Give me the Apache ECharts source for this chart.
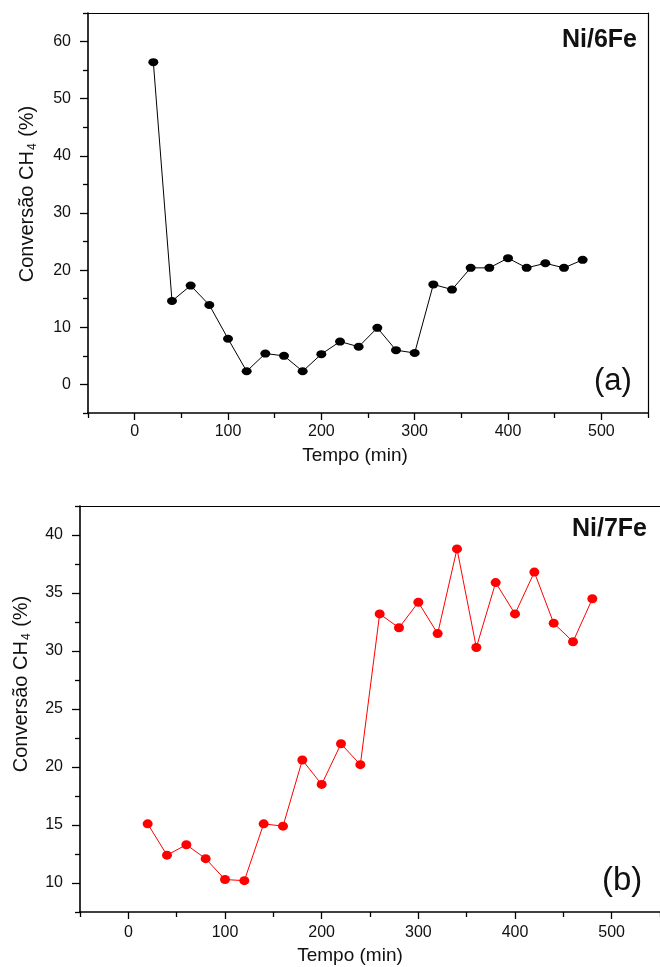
<!DOCTYPE html>
<html>
<head>
<meta charset="utf-8">
<script src="https://cdn.jsdelivr.net/npm/echarts@6/dist/echarts.min.js"></script>
<style>
html,body{margin:0;padding:0;background:#fff;}
#chart{width:660px;height:967px;}
</style>
</head>
<body>
<div id="chart"></div>
<script>
// ---- data ----
const timeMin = [20, 40, 60, 80, 100, 120, 140, 160, 180, 200, 220, 240, 260, 280, 300, 320, 340, 360, 380, 400, 420, 440, 460, 480];
const conv6Fe = [56.4, 14.6, 17.3, 13.9, 8.0, 2.3, 5.4, 5.0, 2.3, 5.3, 7.5, 6.6, 9.9, 6.0, 5.5, 17.5, 16.6, 20.4, 20.4, 22.1, 20.4, 21.2, 20.4, 21.8];
const conv7Fe = [15.1, 12.4, 13.3, 12.1, 10.3, 10.2, 15.1, 14.9, 20.6, 18.5, 22.0, 20.2, 33.2, 32.0, 34.2, 31.5, 38.8, 30.3, 35.9, 33.2, 36.8, 32.4, 30.8, 34.5];

const xMajorTicks = [0, 100, 200, 300, 400, 500];
const xMinorTicks = [-50, 50, 150, 250, 350, 450, 550];
const yMajorTicksA = [0, 10, 20, 30, 40, 50, 60];
const yMinorTicksA = [-5, 5, 15, 25, 35, 45, 55, 65];
const yMajorTicksB = [10, 15, 20, 25, 30, 35, 40];
const yMinorTicksB = [7.5, 12.5, 17.5, 22.5, 27.5, 32.5, 37.5, 42.5];

const panelA = 'Ni/6Fe', panelB = 'Ni/7Fe';
const tagA = '(a)', tagB = '(b)';
const xTitle = 'Tempo (min)';

// ---- styles ----
const FONT = '"Liberation Sans", Arial, Helvetica, sans-serif';
const axisLineStyle = { color: '#000', width: 1.6 };
const labelStyle = { color: '#111', fontSize: 16, fontFamily: FONT };

function pairOfX(gridIndex, min, max, margin) {
  return [
    {
      type: 'value', gridIndex, min, max, position: 'bottom',
      axisLine: { show: true, onZero: false, lineStyle: axisLineStyle },
      axisTick: { show: true, inside: false, length: 7, customValues: xMajorTicks, lineStyle: { color: '#000', width: 1.3 } },
      axisLabel: { show: true, margin, customValues: xMajorTicks, ...labelStyle },
      splitLine: { show: false }
    },
    {
      type: 'value', gridIndex, min, max, position: 'bottom',
      axisLine: { show: false, onZero: false },
      axisTick: { show: true, inside: false, length: 5, customValues: xMinorTicks, lineStyle: { color: '#000', width: 1.3 } },
      axisLabel: { show: false },
      splitLine: { show: false }
    },
    {
      type: 'value', gridIndex, min, max, position: 'top',
      axisLine: { show: true, onZero: false, lineStyle: { color: '#000', width: 1.2 } },
      axisTick: { show: false },
      axisLabel: { show: false },
      splitLine: { show: false }
    }
  ];
}
function pairOfY(gridIndex, min, max, major, minor, margin, rightBorder) {
  return [
    {
      type: 'value', gridIndex, min, max, position: 'left',
      axisLine: { show: true, onZero: false, lineStyle: axisLineStyle },
      axisTick: { show: true, inside: false, length: 8, customValues: major, lineStyle: { color: '#000', width: 1.3 } },
      axisLabel: { show: true, margin, customValues: major, ...labelStyle },
      splitLine: { show: false }
    },
    {
      type: 'value', gridIndex, min, max, position: 'left',
      axisLine: { show: false, onZero: false },
      axisTick: { show: true, inside: false, length: 5, customValues: minor, lineStyle: { color: '#000', width: 1.3 } },
      axisLabel: { show: false },
      splitLine: { show: false }
    },
    {
      type: 'value', gridIndex, min, max, position: 'right',
      axisLine: { show: rightBorder, onZero: false, lineStyle: { color: '#000', width: 1.2 } },
      axisTick: { show: false },
      axisLabel: { show: false },
      splitLine: { show: false }
    }
  ];
}

const chart = echarts.init(document.getElementById('chart'), null, { renderer: 'canvas' });

const yTitleRich = {
  s: { fontSize: 12, fontFamily: FONT, color: '#111', padding: [11, 1, 0, 1] }
};

chart.setOption({
  animation: false,
  backgroundColor: '#fff',
  grid: [
    { left: 88, top: 13, width: 560, height: 400, show: false },
    { left: 80, top: 506, width: 582, height: 406, show: false }
  ],
  xAxis: [
    ...pairOfX(0, -50, 550, 11),
    ...pairOfX(1, -50, 550, 13)
  ],
  yAxis: [
    ...pairOfY(0, -5, 65, yMajorTicksA, yMinorTicksA, 17, true),
    ...pairOfY(1, 7.5, 42.5, yMajorTicksB, yMinorTicksB, 17, false)
  ],
  series: [
    {
      type: 'line', xAxisIndex: 0, yAxisIndex: 0,
      data: timeMin.map((t, i) => [t, conv6Fe[i]]),
      symbol: 'circle', symbolSize: [10, 8],
      itemStyle: { color: '#000' },
      lineStyle: { color: '#000', width: 1 }
    },
    {
      type: 'line', xAxisIndex: 3, yAxisIndex: 3,
      data: timeMin.map((t, i) => [t, conv7Fe[i]]),
      symbol: 'circle', symbolSize: [10, 9],
      itemStyle: { color: '#ff0000' },
      lineStyle: { color: '#ff0000', width: 1 }
    }
  ],
  graphic: [
    { type: 'text', left: 562, top: 28, style: { text: panelA, font: 'bold 25px ' + FONT, fill: '#111' } },
    { type: 'text', left: 594, top: 366, style: { text: tagA, font: '31px ' + FONT, fill: '#111' } },
    { type: 'text', left: 572, top: 517, style: { text: panelB, font: 'bold 25px ' + FONT, fill: '#111' } },
    { type: 'text', left: 602, top: 864, style: { text: tagB, font: '33px ' + FONT, fill: '#111' } },
    { type: 'text', x: 355, y: 456, style: { text: xTitle, font: '19px ' + FONT, fill: '#111', align: 'center', verticalAlign: 'middle' } },
    { type: 'text', x: 350, y: 956, style: { text: xTitle, font: '19px ' + FONT, fill: '#111', align: 'center', verticalAlign: 'middle' } },
    { type: 'text', x: 27, y: 194, rotation: Math.PI / 2,
      style: { text: 'Conversão CH{s|4} (%)', rich: yTitleRich, font: '20px ' + FONT, fill: '#111', align: 'center', verticalAlign: 'middle' } },
    { type: 'text', x: 21, y: 684, rotation: Math.PI / 2,
      style: { text: 'Conversão CH{s|4} (%)', rich: yTitleRich, font: '20px ' + FONT, fill: '#111', align: 'center', verticalAlign: 'middle' } }
  ]
});
</script>
</body>
</html>
